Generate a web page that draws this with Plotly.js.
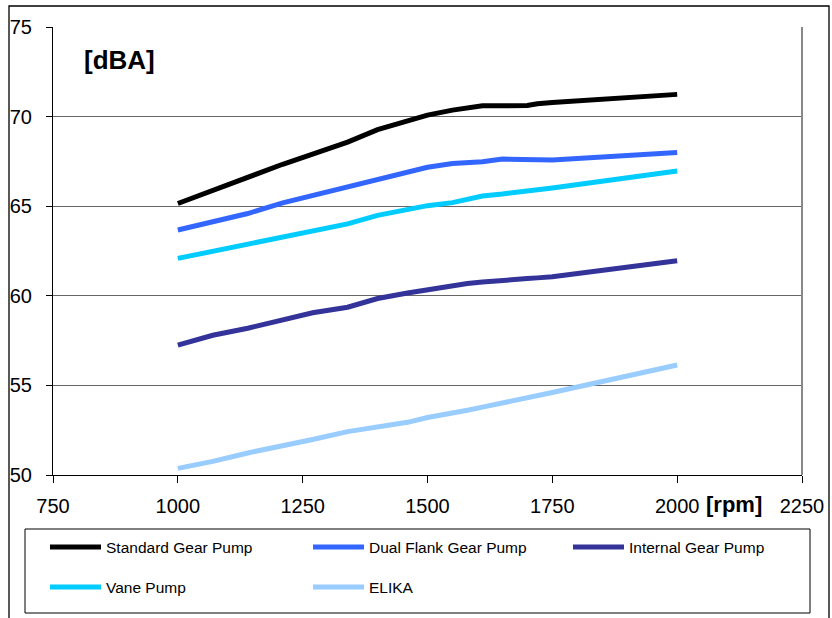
<!DOCTYPE html>
<html>
<head>
<meta charset="utf-8">
<script src="https://cdn.plot.ly/plotly-3.0.1.min.js"></script>
<style>
  html, body { margin: 0; padding: 0; background: #fff; }
  #chart { width: 832px; height: 618px; }
</style>
</head>
<body>
<div id="chart"></div>
<script>
// ---- data ----
const rpm = [1000, 1070, 1140, 1210, 1270, 1340, 1400, 1460, 1500, 1550, 1580, 1610, 1650, 1700, 1720, 1750, 2000];
const standardGearPump = [65.15, 65.90, 66.63, 67.34, 67.90, 68.58, 69.27, 69.76, 70.08, 70.36, 70.51, 70.60, 70.60, 70.62, 70.72, 70.79, 71.24];
const dualFlankGearPump = [63.67, 64.11, 64.59, 65.19, 65.59, 66.05, 66.50, 66.91, 67.17, 67.38, 67.44, 67.48, 67.63, 67.60, 67.60, 67.58, 67.99];
const internalGearPump = [57.25, 57.80, 58.19, 58.65, 59.05, 59.36, 59.85, 60.16, 60.33, 60.59, 60.69, 60.77, 60.88, 60.96, 61.00, 61.06, 61.96];
const vanePump = [62.09, 62.49, 62.92, 63.33, 63.63, 64.01, 64.49, 64.82, 65.03, 65.20, 65.35, 65.57, 65.68, 65.83, 65.90, 66.02, 66.96];
const elika = [50.37, 50.76, 51.23, 51.62, 51.98, 52.42, 52.70, 52.94, 53.21, 53.43, 53.61, 53.79, 54.02, 54.27, 54.38, 54.60, 56.14];

const seriesNames = ["Standard Gear Pump", "Dual Flank Gear Pump", "Internal Gear Pump", "Vane Pump", "ELIKA"];
const seriesValues = [standardGearPump, dualFlankGearPump, internalGearPump, vanePump, elika];
const seriesColors = ["#000000", "#3366FF", "#333399", "#00CCFF", "#99CCFF"];

const xTicks = [750, 1000, 1250, 1500, 1750, 2000, 2250];
const yTicks = [50, 55, 60, 65, 70, 75];

// ---- layout geometry (pixels) ----
const L = 53, T = 27, W = 749, H = 448, FW = 832, FH = 618;
const px = x => (x - L) / W;
const py = y => (T + H - y) / H;

const traces = seriesNames.map((name, i) => ({
  type: "scatter",
  mode: "lines",
  name: name,
  x: rpm,
  y: seriesValues[i],
  line: { color: seriesColors[i], width: 5 },
  showlegend: false,
  hoverinfo: "x+y+name"
}));

const shapes = [
  // outer chart border
  { type: "rect", xref: "paper", yref: "paper", x0: px(9), x1: px(829), y0: py(640), y1: py(6),
    line: { color: "#000000", width: 1.3 }, layer: "below" },
  // right plot border
  { type: "line", xref: "paper", yref: "paper", x0: 1, x1: 1, y0: 0, y1: 1,
    line: { color: "#888888", width: 2 } },
  // legend box
  { type: "rect", xref: "paper", yref: "paper", x0: px(25), x1: px(810), y0: py(613), y1: py(529),
    line: { color: "#000000", width: 1 }, fillcolor: "rgba(0,0,0,0)" }
];

const annotations = [
  { text: "<b>[dBA]</b>", xref: "paper", yref: "paper", x: px(119), y: py(60),
    xanchor: "center", yanchor: "middle", showarrow: false,
    font: { family: "Liberation Sans, Arial, sans-serif", size: 26, color: "#000" } },
  { text: "<b>[rpm]</b>", xref: "paper", yref: "paper", x: px(734), y: py(504),
    xanchor: "center", yanchor: "middle", showarrow: false,
    font: { family: "Liberation Sans, Arial, sans-serif", size: 22, color: "#000" } }
];

// custom legend (3 columns, 2 rows)
const legCols = [50, 313, 573];
const legRows = [547, 587];
seriesNames.forEach((name, i) => {
  const cx = legCols[i % 3], cy = legRows[Math.floor(i / 3)];
  shapes.push({ type: "line", xref: "paper", yref: "paper",
    x0: px(cx), x1: px(cx + 51), y0: py(cy), y1: py(cy),
    line: { color: seriesColors[i], width: 5 } });
  annotations.push({ text: name, xref: "paper", yref: "paper", x: px(cx + 54), y: py(cy),
    xanchor: "left", yanchor: "middle", showarrow: false,
    font: { family: "Liberation Sans, Arial, sans-serif", size: 15.5, color: "#000" } });
});

const layout = {
  width: FW, height: FH,
  margin: { l: L, r: FW - L - W, t: T, b: FH - T - H, pad: 0 },
  paper_bgcolor: "#ffffff",
  plot_bgcolor: "#ffffff",
  font: { family: "Liberation Sans, Arial, sans-serif", size: 20, color: "#000" },
  showlegend: false,
  xaxis: {
    range: [750, 2250],
    tickvals: xTicks,
    ticktext: xTicks.map(String),
    showgrid: false,
    zeroline: false,
    showline: true, linecolor: "#000", linewidth: 1,
    ticks: "outside", ticklen: 7, tickcolor: "#000", tickwidth: 1,
    tickfont: { size: 20, color: "#000" },
    ticklabelstandoff: 6,
    fixedrange: true
  },
  yaxis: {
    range: [50, 75],
    tickvals: yTicks,
    ticktext: yTicks.map(String),
    showgrid: true, gridcolor: "#666666", gridwidth: 1,
    zeroline: false,
    showline: true, linecolor: "#000", linewidth: 1,
    ticks: "outside", ticklen: 6, tickcolor: "#000", tickwidth: 1,
    tickfont: { size: 20, color: "#000" },
    ticklabelstandoff: 10,
    fixedrange: true
  },
  shapes: shapes,
  annotations: annotations
};

Plotly.newPlot("chart", traces, layout, { displayModeBar: false, staticPlot: true });
</script>
</body>
</html>
